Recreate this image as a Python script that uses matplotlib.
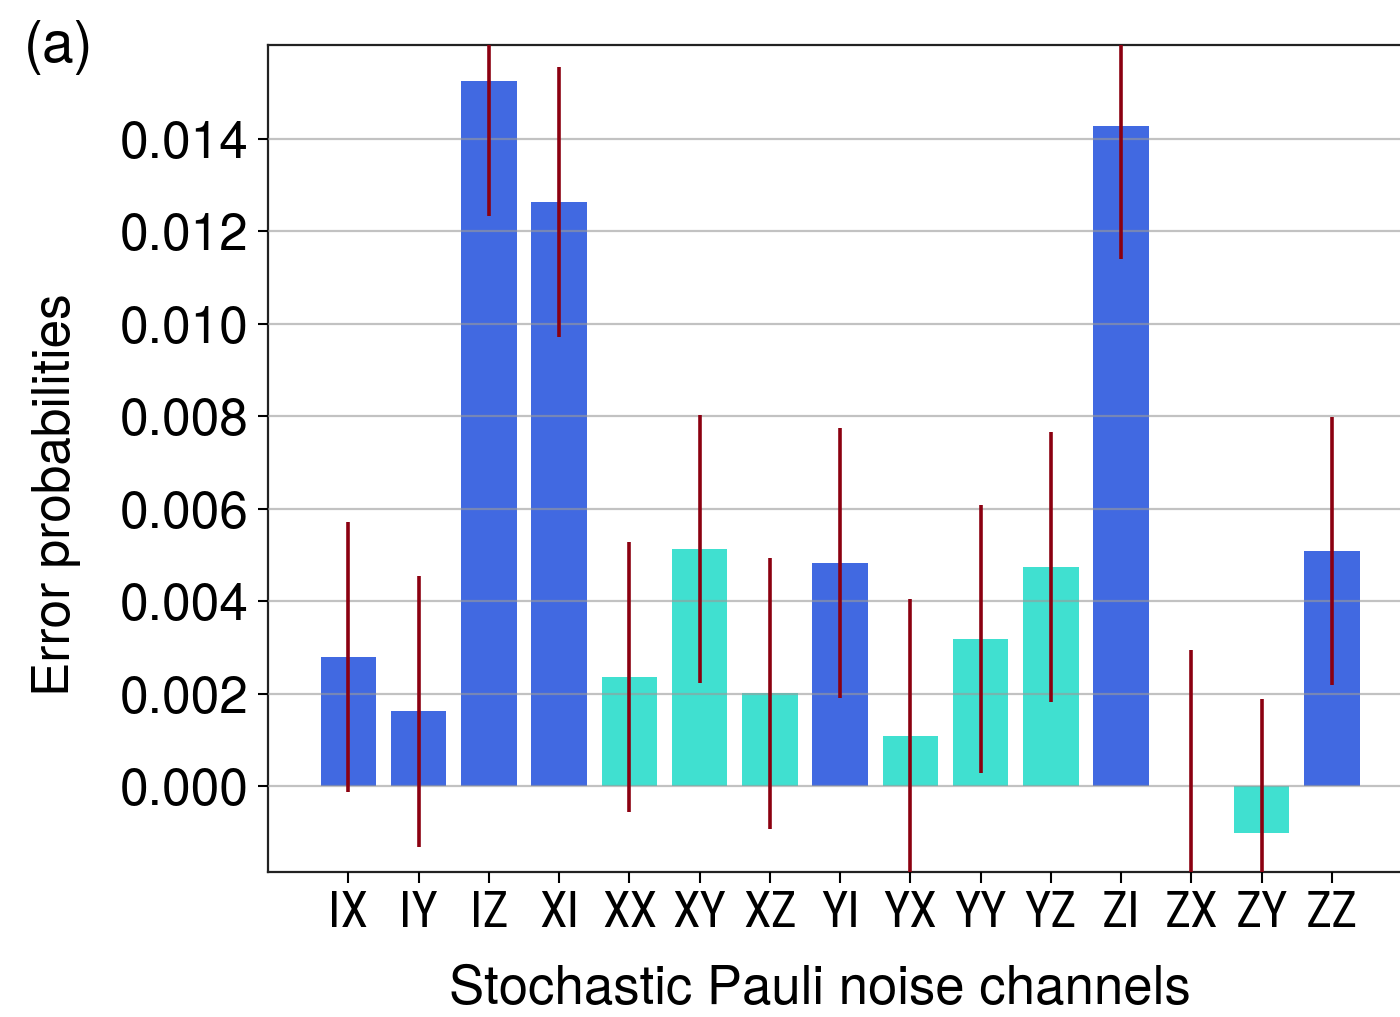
import matplotlib
matplotlib.use("Agg")
import matplotlib.pyplot as plt
from matplotlib import font_manager

channels = ["IX", "IY", "IZ", "XI", "XX", "XY", "XZ", "YI",
            "YX", "YY", "YZ", "ZI", "ZX", "ZY", "ZZ"]
probabilities = [0.00279, 0.00162, 0.01526, 0.01264, 0.00236, 0.00513,
                 0.00201, 0.00483, 0.00108, 0.00318, 0.00474, 0.01429,
                 0.00001, -0.00102, 0.00509]
errors = [0.00292, 0.00293, 0.00292, 0.00292, 0.00292, 0.00290,
          0.00293, 0.00292, 0.00297, 0.00290, 0.00292, 0.00288,
          0.00293, 0.00290, 0.00290]
groups = ["single", "single", "single", "single", "two", "two", "two", "single",
          "two", "two", "two", "single", "two", "two", "single"]
y_ticks = [0.000, 0.002, 0.004, 0.006, 0.008, 0.010, 0.012, 0.014]

group_colors = {"single": "#4169E1", "two": "#40E0D0"}

names = {f.name for f in font_manager.fontManager.ttflist}


def pick(cands, default):
    for c in cands:
        if c in names:
            return c
    return default


main_font = pick(["Nimbus Sans", "TeX Gyre Heros", "Liberation Sans", "Arimo"], "DejaVu Sans")
narrow_font = pick(["Liberation Sans Narrow", "Nimbus Sans Narrow", "Roboto Condensed",
                    "Archivo Narrow", "PT Sans Narrow"], main_font)
plt.rcParams["font.family"] = [main_font, "DejaVu Sans"]

fig = plt.figure(figsize=(14, 10.17), dpi=100)
ax = fig.add_axes([268 / 1400, 1 - 872 / 1017, 1 - 268 / 1400, (872 - 45) / 1017])

x = list(range(len(channels)))
colors = [group_colors[g] for g in groups]
ax.bar(x, probabilities, width=0.79, color=colors, zorder=1)
ax.errorbar(x, probabilities, yerr=errors, fmt="none", ecolor="#8B0010",
            elinewidth=2.6, capsize=0, zorder=4)

ax.set_xlim(-1.146, 14.97)
ax.set_ylim(-0.001861, 0.016035)
ax.set_yticks(y_ticks)
ax.set_yticklabels([f"{v:.3f}" for v in y_ticks])
ax.set_xticks(x)
ax.set_xticklabels(channels, fontfamily=[narrow_font, main_font], fontsize=36)

ax.set_axisbelow(False)
ax.yaxis.grid(True, color="#9a9a9a", alpha=0.6, linewidth=1.6, zorder=2)
ax.xaxis.grid(False)

ax.tick_params(axis="y", labelsize=37, length=7, width=1.5, pad=7)
ax.tick_params(axis="x", length=8, width=1.5, pad=4)
for s in ["left", "bottom", "top"]:
    ax.spines[s].set_linewidth(1.6)
    ax.spines[s].set_color("#222222")
ax.spines["right"].set_visible(False)

ax.set_ylabel("Error probabilities", fontsize=37)
ax.yaxis.set_label_coords((81 - 268) / (1400 - 268), (872 - 495) / (872 - 45))
ax.set_xlabel("Stochastic Pauli noise channels", fontsize=38)
ax.xaxis.set_label_coords((820 - 268) / (1400 - 268), -0.113)
fig.text(24 / 1400, 1 - 62 / 1017, "(a)", fontsize=41)

fig.savefig("out.png", dpi=100)
